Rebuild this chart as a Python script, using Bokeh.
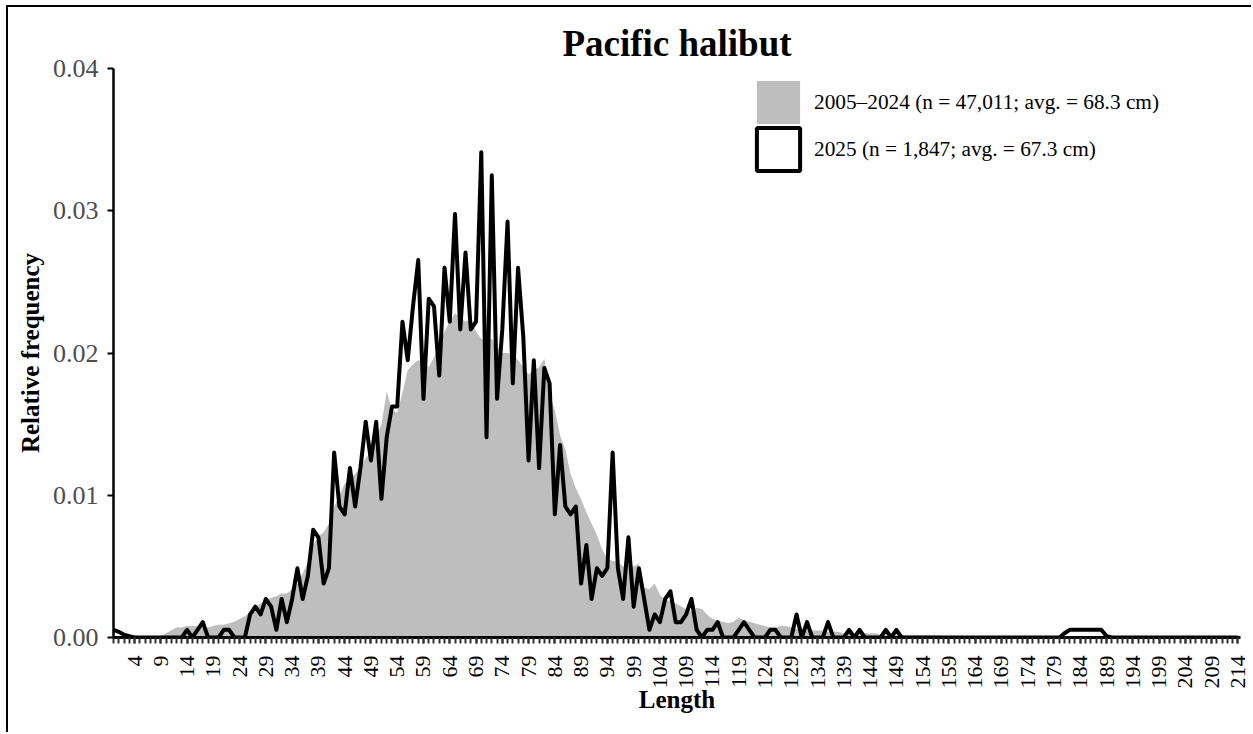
import math
from bokeh.plotting import figure
from bokeh.models import (Range1d, FixedTicker, ColumnDataSource,
                          Legend, LegendItem)
from bokeh.embed import file_html
from bokeh.resources import INLINE

# ---------------- data ----------------
title_text = "Pacific halibut"
x_label = "Length"
y_label = "Relative frequency"
label_hist = "2005\u20132024 (n = 47,011; avg. = 68.3 cm)"
label_2025 = "2025 (n = 1,847; avg. = 67.3 cm)"

lengths = list(range(0, 215))

# 2005-2024 relative frequency (grey area)
hist_2005_2024 = [
    0, 0, 0, 0, 0, 0, 0, 0, 0, 0.0001,
    0.0003, 0.0005, 0.0007, 0.0007, 0.0008, 0.0008, 0.0008, 0.0007, 0.0007, 0.0008,
    0.0009, 0.0009, 0.0010, 0.0011, 0.0013, 0.0015, 0.0018, 0.0021, 0.0024, 0.0026,
    0.0028, 0.0029, 0.0031, 0.0031, 0.0034, 0.0038, 0.0045, 0.0053, 0.0065, 0.0071,
    0.0074, 0.0080, 0.0092, 0.0100, 0.0108, 0.0112, 0.0115, 0.0120, 0.0126, 0.0130,
    0.0140, 0.0150, 0.0173, 0.0160, 0.0158, 0.0172, 0.0188, 0.0192, 0.0195, 0.0193,
    0.0190, 0.0197, 0.0205, 0.0215, 0.0222, 0.0228, 0.0225, 0.0222, 0.0224, 0.0215,
    0.0210, 0.0208, 0.0210, 0.0205, 0.0200, 0.0200, 0.0198, 0.0195, 0.0190, 0.0185,
    0.0188, 0.0190, 0.0196, 0.0170, 0.0160, 0.0142, 0.0132, 0.0115, 0.0105, 0.0097,
    0.0088, 0.0080, 0.0072, 0.0062, 0.0055, 0.0054, 0.0053, 0.0050, 0.0051, 0.0050,
    0.0052, 0.0035, 0.0034, 0.0038, 0.0030, 0.0026, 0.0026, 0.0024, 0.0022, 0.0020,
    0.0018, 0.0021, 0.0020, 0.0016, 0.0013, 0.0012, 0.0011, 0.0010, 0.0011, 0.0014,
    0.0012, 0.0011, 0.0010, 0.0009, 0.0008, 0.0007, 0.0007, 0.0008, 0.0008, 0.0007,
    0.0006, 0.0005, 0.0005, 0.0005, 0.0005, 0.0005, 0.0004, 0.0004, 0.0004, 0.0003,
    0.0003, 0.0003, 0.0003, 0.0003, 0.0003, 0.0003, 0.0002, 0.0002, 0.0002, 0.0002,
    0.0002, 0.00015, 0.00015, 0.00015, 0.00015, 0.00015, 0.00015, 0.00015, 0.0001, 0.0001,
    0.0001, 0.0001, 0.0001, 0.0001, 0.0001, 0.0001, 0.0001, 0.0001, 0.0001, 0.0001,
    0.0001, 0.0001, 0.0001, 0.0001, 0.0001, 0.0001, 0.00005, 0.00005, 0.00005, 0.00005,
    0.00005, 0.00005, 0.00005, 0.00005, 0.00005, 0.00005, 0.00005, 0.00005, 0.00005, 0.00005,
    0.00005, 0.00005, 0.00005, 0.00005, 0.00005, 0.00005, 0.00005, 0.00005, 0.00005, 0.00005,
    0.00005, 0.00005, 0.00005, 0.00005, 0.00005, 0.00005, 0.00005, 0.00005, 0.00005, 0.00005,
    0.00005, 0.00005, 0.00005, 0.00005, 0.00005,
]

# 2025 relative frequency (black line)
freq_2025 = [
    0.00054, 0.0004, 0.0002, 0.0001, 0, 0, 0, 0, 0, 0,
    0, 0, 0, 0, 0.00054, 0, 0.00054, 0.00108, 0, 0,
    0, 0.00054, 0.00054, 0, 0, 0, 0.00162, 0.00217, 0.00162, 0.00271,
    0.00217, 0.00054, 0.00271, 0.00108, 0.00271, 0.00487, 0.00271, 0.00433, 0.00758, 0.00704,
    0.00379, 0.00487, 0.01300, 0.00921, 0.00866, 0.01191, 0.00921, 0.01191, 0.01516, 0.01245,
    0.01516, 0.00975, 0.01408, 0.01624, 0.01624, 0.02220, 0.01949, 0.02328, 0.02653, 0.01678,
    0.02382, 0.02328, 0.01841, 0.02599, 0.02220, 0.02978, 0.02166, 0.02707, 0.02166, 0.02220,
    0.03412, 0.01408, 0.03249, 0.01678, 0.02166, 0.02924, 0.01787, 0.02599, 0.02112, 0.01245,
    0.01949, 0.01191, 0.01895, 0.01787, 0.00866, 0.01354, 0.00921, 0.00866, 0.00921, 0.00379,
    0.00650, 0.00271, 0.00487, 0.00433, 0.00487, 0.01300, 0.00487, 0.00271, 0.00704, 0.00217,
    0.00487, 0.00271, 0.00054, 0.00162, 0.00108, 0.00271, 0.00325, 0.00108, 0.00108, 0.00162,
    0.00271, 0.00054, 0, 0.00054, 0.00054, 0.00108, 0, 0, 0, 0.00054,
    0.00108, 0.00054, 0, 0, 0, 0.00054, 0.00054, 0, 0, 0,
    0.00162, 0, 0.00108, 0, 0, 0, 0.00108, 0, 0, 0,
    0.00054, 0, 0.00054, 0, 0, 0, 0, 0.00054, 0, 0.00054,
    0, 0, 0, 0, 0, 0, 0, 0, 0, 0,
    0, 0, 0, 0, 0, 0, 0, 0, 0, 0,
    0, 0, 0, 0, 0, 0, 0, 0, 0, 0,
    0, 0.0003, 0.00054, 0.00054, 0.00054, 0.00054, 0.00054, 0.00054, 0.00054, 0.0001,
    0, 0, 0, 0, 0, 0, 0, 0, 0, 0,
    0, 0, 0, 0, 0, 0, 0, 0, 0, 0,
    0, 0, 0, 0, 0,
]

x_tick_values = list(range(4, 215, 5))
x_tick_labels = [str(v) for v in x_tick_values]
y_tick_values = [0.0, 0.01, 0.02, 0.03, 0.04]
y_tick_labels = ["0.00", "0.01", "0.02", "0.03", "0.04"]

# ---------------- figure ----------------
SERIF = "Liberation Serif"

p = figure(width=1245, height=727, output_backend="svg", toolbar_location=None,
           x_range=Range1d(0, 214.5), y_range=Range1d(0, 0.04),
           min_border_left=105, min_border_right=13, min_border_top=61,
           min_border_bottom=97)
p.styles = {"margin-left": "6px", "margin-top": "5px",
            "border-left": "2px solid black", "border-top": "2px solid black"}
p.outline_line_color = None
p.xgrid.visible = False
p.ygrid.visible = False
p.background_fill_color = "white"
p.border_fill_color = "white"

p.title.text = title_text
p.title.align = "center"
p.title.vertical_align = "top"
p.title.text_font = SERIF
p.title.text_font_size = "37px"
p.title.text_font_style = "bold"
p.title.text_color = "black"
p.title.standoff = 5

src = ColumnDataSource(dict(length=lengths, hist=hist_2005_2024, freq=freq_2025))

area_r = p.varea(x="length", y1=0, y2="hist", source=src,
                 fill_color="#BEBEBE", fill_alpha=1.0)
line_r = p.line(x="length", y="freq", source=src, line_color="black",
                line_width=4, line_join="round")
# legend proxy for the 2025 series (outlined box, draws nothing in the plot)
box_r = p.quad(left=[math.nan], right=[math.nan], top=[math.nan],
               bottom=[math.nan], fill_color="white",
               line_color="black", line_width=4)

# y axis
ya = p.yaxis[0]
ya.ticker = FixedTicker(ticks=y_tick_values, minor_ticks=[])
ya.major_label_overrides = {v: s for v, s in zip(y_tick_values, y_tick_labels)}
ya.axis_line_color = "black"
ya.axis_line_width = 2.5
ya.major_tick_out = 6
ya.major_tick_in = 0
ya.major_tick_line_color = "black"
ya.major_tick_line_width = 2
ya.minor_tick_out = 0
ya.minor_tick_in = 0
ya.major_label_text_font = SERIF
ya.major_label_text_font_size = "26px"
ya.major_label_text_color = "#4D4D4D"
ya.major_label_standoff = 9
ya.axis_label = y_label
ya.axis_label_text_font = SERIF
ya.axis_label_text_font_size = "25px"
ya.axis_label_text_font_style = "bold"
ya.axis_label_text_color = "black"
ya.axis_label_standoff = 6

# x axis (comb of 1 cm ticks, labels every 5 cm)
xa = p.xaxis[0]
xa.ticker = FixedTicker(ticks=x_tick_values, minor_ticks=lengths)
xa.major_label_overrides = {v: s for v, s in zip(x_tick_values, x_tick_labels)}
xa.major_label_orientation = math.pi / 2
xa.major_label_text_font = SERIF
xa.major_label_text_font_size = "22px"
xa.major_label_text_color = "black"
xa.major_label_standoff = 12
xa.axis_line_color = "black"
xa.axis_line_width = 3
xa.minor_tick_out = 6
xa.minor_tick_in = 0
xa.minor_tick_line_color = "#333333"
xa.minor_tick_line_width = 2
xa.major_tick_out = 6
xa.major_tick_in = 0
xa.major_tick_line_color = "#333333"
xa.major_tick_line_width = 2
xa.axis_label = x_label
xa.axis_label_text_font = SERIF
xa.axis_label_text_font_size = "25px"
xa.axis_label_text_font_style = "bold"
xa.axis_label_text_color = "black"
xa.axis_label_standoff = -6

legend_style = dict(orientation="vertical", glyph_width=54, glyph_height=54,
                    padding=0, margin=0, label_standoff=9,
                    label_text_font=SERIF, label_text_font_size="21.3px",
                    label_text_color="black", border_line_color=None,
                    background_fill_alpha=0)
legend_hist = Legend(items=[LegendItem(label=label_hist, renderers=[area_r])],
                     location=(638, 508), **legend_style)
legend_new = Legend(items=[LegendItem(label=label_2025, renderers=[box_r])],
                    location=(638, 461), **legend_style)
p.add_layout(legend_hist)
p.add_layout(legend_new)

open("out.html", "w").write(file_html(p, INLINE))
